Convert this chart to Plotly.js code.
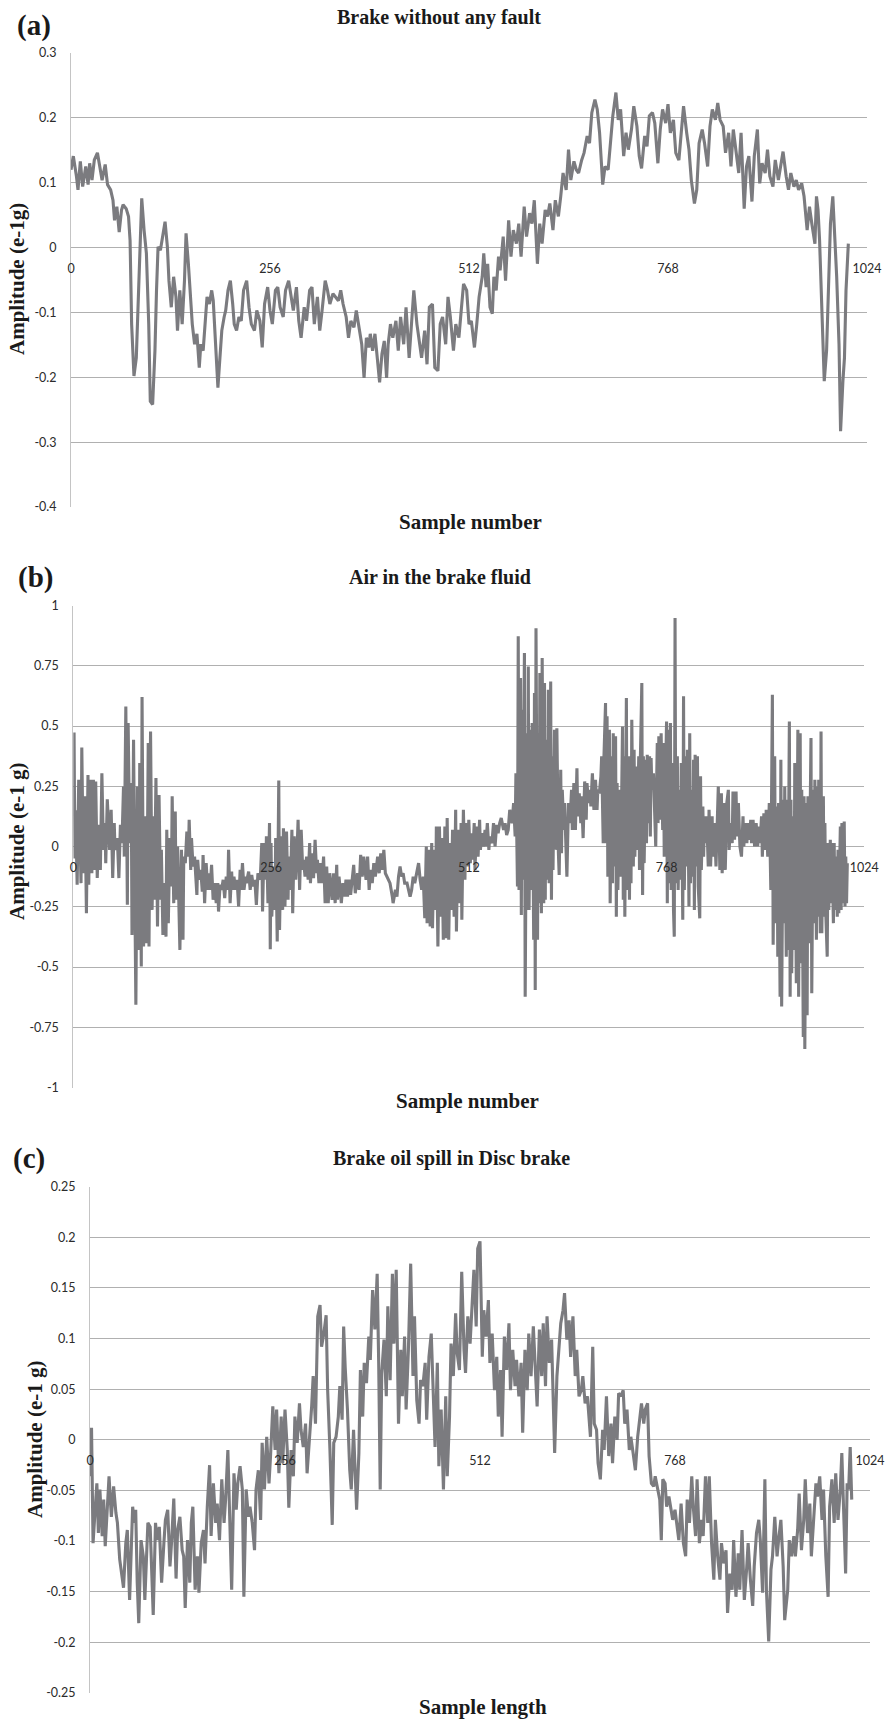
<!DOCTYPE html>
<html>
<head>
<meta charset="utf-8">
<script src="https://cdn.plot.ly/plotly-3.0.1.min.js"></script>
<style>
html,body{margin:0;padding:0;background:#ffffff;}
#chart{width:888px;height:1720px;}
</style>
</head>
<body>
<div id="chart"></div>
<script>
// ---------- tick labels ----------
const xTickVals = [0, 256, 512, 768, 1024];
const xTickText = ['0', '256', '512', '768', '1024'];

const yTickValsA = [0.3, 0.2, 0.1, 0, -0.1, -0.2, -0.3, -0.4];
const yTickTextA = ['0.3', '0.2', '0.1', '0', '-0.1', '-0.2', '-0.3', '-0.4'];
const yTickValsB = [1, 0.75, 0.5, 0.25, 0, -0.25, -0.5, -0.75, -1];
const yTickTextB = ['1', '0.75', '0.5', '0.25', '0', '-0.25', '-0.5', '-0.75', '-1'];
const yTickValsC = [0.25, 0.2, 0.15, 0.1, 0.05, 0, -0.05, -0.1, -0.15, -0.2, -0.25];
const yTickTextC = ['0.25', '0.2', '0.15', '0.1', '0.05', '0', '-0.05', '-0.1', '-0.15', '-0.2', '-0.25'];

// ---------- (a) Brake without any fault ----------
const sampleA = [0,3,7,9,12,15,19,22,24,27,
30,34,37,40,44,47,51,54,56,59,
62,65,67,71,74,76,78,81,84,88,
91,94,97,100,102,105,108,110,112,115,
118,121,124,126,129,132,135,137,140,143,
146,148,151,154,156,159,162,165,167,170,
172,175,178,181,183,186,189,191,194,197,
199,202,205,208,210,213,216,219,222,226,
229,232,236,239,243,246,249,253,256,259,
263,266,269,273,276,280,283,286,290,293,
296,300,303,307,310,313,317,320,323,327,
330,333,337,340,344,347,350,354,357,360,
364,367,371,374,377,380,383,385,388,391,
394,397,400,403,406,408,411,414,418,421,
424,428,431,435,438,441,445,448,451,455,
458,461,465,468,472,475,478,482,485,488,
492,495,499,502,505,509,512,515,519,522,
525,529,531,534,536,539,542,544,547,550,
552,556,559,563,566,569,573,576,579,583,
586,590,593,596,600,603,606,610,613,616,
620,623,627,630,633,637,640,643,647,650,
653,657,660,664,667,670,674,677,680,684,
687,691,694,697,701,704,707,711,714,717,
721,724,728,731,734,738,741,744,748,751,
755,758,761,765,768,771,775,778,782,785,
788,792,795,798,802,805,808,812,815,819,
822,825,829,832,835,839,842,846,849,852,
856,859,862,866,869,872,876,879,883,886,
889,893,896,899,903,906,910,913,916,920,
923,926,930,933,936,940,943,947,950,953,
957,959,961,963,967,969,972,975,977,980,
982,985,988,990,993,995,997,1000];
const ampA = [0.120,0.141,0.110,0.089,0.133,0.094,0.125,0.097,0.130,0.104,
0.135,0.146,0.125,0.104,0.128,0.097,0.089,0.073,0.042,0.063,
0.024,0.058,0.066,0.060,0.048,0.011,-0.118,-0.198,-0.170,-0.014,
0.076,0.027,-0.009,-0.118,-0.237,-0.242,-0.159,-0.066,0.001,-0.004,
0.022,0.040,0.001,-0.051,-0.092,-0.045,-0.076,-0.128,-0.066,-0.118,
-0.051,0.022,-0.025,-0.076,-0.118,-0.149,-0.133,-0.185,-0.149,-0.159,
-0.118,-0.076,-0.087,-0.066,-0.082,-0.144,-0.216,-0.180,-0.128,-0.107,
-0.097,-0.066,-0.051,-0.087,-0.118,-0.128,-0.107,-0.113,-0.066,-0.051,
-0.092,-0.118,-0.128,-0.097,-0.113,-0.154,-0.087,-0.061,-0.097,-0.118,
-0.066,-0.061,-0.092,-0.107,-0.066,-0.051,-0.076,-0.097,-0.061,-0.113,
-0.139,-0.092,-0.113,-0.066,-0.061,-0.118,-0.076,-0.128,-0.097,-0.051,
-0.066,-0.087,-0.071,-0.076,-0.082,-0.066,-0.087,-0.107,-0.139,-0.113,
-0.123,-0.097,-0.128,-0.149,-0.201,-0.139,-0.154,-0.133,-0.159,-0.133,
-0.170,-0.208,-0.164,-0.144,-0.201,-0.149,-0.118,-0.139,-0.113,-0.159,
-0.107,-0.149,-0.092,-0.170,-0.118,-0.066,-0.118,-0.149,-0.170,-0.128,
-0.180,-0.092,-0.087,-0.185,-0.190,-0.118,-0.107,-0.149,-0.076,-0.107,
-0.159,-0.118,-0.139,-0.097,-0.056,-0.066,-0.118,-0.113,-0.154,-0.118,
-0.076,-0.045,-0.009,-0.061,-0.025,-0.092,-0.102,-0.045,-0.066,-0.014,
-0.035,0.017,-0.051,0.042,-0.014,0.027,0.006,0.037,-0.014,0.063,
0.017,0.053,0.037,0.073,-0.025,0.037,0.006,0.058,0.048,0.068,
0.027,0.073,0.048,0.079,0.115,0.089,0.151,0.104,0.133,0.120,
0.115,0.135,0.146,0.172,0.161,0.208,0.228,0.213,0.177,0.097,
0.125,0.120,0.166,0.203,0.239,0.197,0.213,0.141,0.177,0.151,
0.182,0.218,0.187,0.141,0.122,0.172,0.156,0.203,0.208,0.192,
0.130,0.182,0.213,0.192,0.221,0.177,0.197,0.146,0.135,0.182,
0.218,0.177,0.151,0.104,0.068,0.089,0.161,0.182,0.161,0.125,
0.187,0.213,0.197,0.223,0.197,0.187,0.146,0.177,0.125,0.182,
0.141,0.115,0.177,0.060,0.125,0.141,0.071,0.141,0.182,0.099,
0.130,0.115,0.151,0.110,0.094,0.135,0.104,0.125,0.148,0.110,
0.089,0.115,0.094,0.104,0.089,0.099,0.079,0.027,0.063,0.037,
0.006,0.079,0.058,0.011,-0.118,-0.206,-0.159,-0.014,0.037,0.079,
0.037,-0.045,-0.149,-0.283,-0.206,-0.170,-0.066,0.006];

// ---------- (b) Air in the brake fluid ----------
const sampleB = [0,1,2,3,5,7,10,11,13,15,
17,19,20,22,24,26,28,29,31,33,
35,37,39,41,42,44,47,49,51,53,
54,57,59,61,63,65,66,68,70,71,
73,75,76,78,80,81,83,85,86,88,
89,91,93,95,97,98,100,102,104,105,
107,109,111,113,114,116,118,120,121,123,
125,127,128,130,132,133,135,137,138,140,
142,143,145,147,149,150,152,153,155,157,
158,160,161,163,165,167,168,170,172,174,
175,177,179,181,183,185,187,188,190,192,
194,196,198,200,201,203,205,206,208,210,
212,214,216,217,219,221,223,224,227,229,
231,233,235,237,239,242,244,245,247,249,
250,252,254,255,256,257,259,261,262,264,
266,267,269,271,272,274,276,278,279,281,
283,284,286,288,290,291,293,295,297,298,
300,302,304,306,307,309,311,313,315,316,
318,320,322,324,326,328,330,332,335,337,
339,341,342,344,347,349,351,353,355,357,
359,362,363,365,368,370,372,374,376,379,
381,383,385,387,389,391,394,396,398,400,
402,404,406,408,410,413,414,417,419,421,
423,425,427,429,432,434,436,438,440,442,
445,447,449,451,453,455,457,458,460,462,
464,465,467,469,470,472,474,476,477,479,
481,483,484,486,488,489,491,493,495,496,
498,500,502,503,505,507,508,510,512,514,
515,517,519,520,522,524,526,527,529,531,
533,534,536,538,539,542,544,546,548,550,
552,554,557,559,561,563,565,568,570,572,
573,575,576,577,579,580,581,582,584,585,
587,588,589,590,592,593,594,596,597,598,
599,601,602,603,604,606,607,609,610,611,
612,614,615,616,618,619,620,621,623,624,
625,626,628,629,631,632,633,635,636,638,
639,641,643,645,646,648,650,652,653,655,
657,658,660,662,664,665,667,669,670,672,
674,676,678,679,681,683,684,686,687,689,
690,691,692,694,695,697,698,699,700,702,
703,704,705,707,708,710,711,712,713,714,
716,717,719,720,721,722,723,725,726,727,
729,730,732,733,734,736,737,738,739,741,
742,743,745,746,747,748,749,751,752,754,
755,756,757,758,760,761,763,764,765,767,
768,769,770,771,773,774,776,777,778,779,
780,782,783,785,786,787,789,790,791,793,
794,795,797,798,799,800,802,803,804,805,
807,808,809,811,812,813,815,816,817,818,
820,822,823,825,827,828,830,832,834,835,
837,839,840,842,844,846,848,849,851,853,
854,856,858,859,861,863,865,867,868,870,
872,873,875,877,878,880,882,884,886,887,
889,891,892,894,896,897,899,901,903,904,
905,906,908,909,911,912,913,915,916,917,
919,920,921,923,924,925,927,928,929,930,
932,933,934,936,937,938,939,941,942,943,
945,946,947,949,950,951,952,954,955,956,
958,959,960,962,963,964,965,967,968,969,
971,972,973,974,976,977,978,980,981,982,
984,985,986,988,989,990,991,993,994,995,
997,998,999,1000,1001,1002];
const ampB = [0.166,0.473,-0.050,0.150,-0.159,0.277,-0.152,0.411,-0.111,0.208,
-0.277,0.297,-0.159,0.277,-0.111,0.277,-0.097,0.270,-0.131,0.090,
-0.097,0.304,-0.014,0.097,-0.069,0.196,-0.014,0.152,-0.131,0.097,
-0.014,0.035,-0.131,0.090,0.014,0.249,-0.042,0.581,-0.242,0.512,
0.014,0.263,-0.367,0.443,-0.318,-0.657,0.249,-0.429,0.346,-0.498,
0.620,-0.415,0.125,-0.401,0.429,-0.415,0.477,-0.263,0.125,-0.221,
0.284,-0.332,0.214,-0.221,-0.014,-0.367,-0.152,-0.374,0.069,-0.318,
0.035,-0.166,0.208,-0.235,0.145,-0.221,0.000,-0.318,-0.429,-0.014,
-0.387,-0.042,-0.069,0.062,-0.042,0.111,-0.097,0.035,-0.083,-0.042,
-0.111,-0.201,-0.055,-0.138,-0.097,-0.187,-0.035,-0.235,-0.069,-0.180,
-0.111,-0.180,-0.076,-0.221,-0.152,-0.235,-0.152,-0.270,-0.159,-0.180,
-0.138,-0.214,-0.125,-0.180,-0.014,-0.235,-0.104,-0.180,-0.125,-0.180,
-0.138,-0.249,-0.097,-0.180,-0.069,-0.180,-0.125,-0.152,-0.104,-0.180,
-0.118,-0.166,-0.138,-0.242,-0.111,-0.138,0.014,-0.270,0.014,-0.138,
0.042,-0.235,0.097,-0.426,0.014,-0.291,-0.083,-0.263,0.035,-0.394,
0.274,-0.346,0.042,-0.263,0.076,-0.249,0.062,-0.221,-0.042,-0.180,
0.069,-0.277,0.042,-0.138,0.014,0.111,-0.180,0.069,-0.097,-0.055,
-0.125,-0.042,-0.138,0.014,-0.152,-0.028,-0.131,0.028,-0.111,-0.055,
-0.152,-0.069,-0.152,-0.042,-0.235,-0.083,-0.235,-0.111,-0.221,-0.111,
-0.235,-0.076,-0.221,-0.125,-0.235,-0.152,-0.208,-0.138,-0.208,-0.138,
-0.201,-0.125,-0.076,-0.194,-0.111,-0.180,-0.035,-0.125,-0.042,-0.138,
-0.042,-0.180,-0.097,-0.152,-0.069,-0.125,-0.042,-0.111,-0.028,-0.097,
-0.014,-0.111,-0.125,-0.138,-0.152,-0.208,-0.235,-0.180,-0.208,-0.125,
-0.083,-0.125,-0.111,-0.152,-0.152,-0.180,-0.208,-0.180,-0.125,-0.152,
-0.104,-0.069,-0.138,-0.180,-0.125,-0.297,0.000,-0.318,-0.014,-0.332,
0.014,-0.339,-0.014,-0.263,0.083,-0.415,0.083,-0.291,0.035,-0.387,
0.083,-0.381,0.118,-0.387,0.014,-0.263,0.069,-0.291,0.152,-0.353,
0.069,-0.235,0.097,-0.304,0.152,-0.138,0.097,-0.083,0.111,-0.069,
0.055,-0.055,0.097,-0.097,0.083,-0.042,0.111,-0.014,0.055,0.000,
0.069,0.000,0.097,-0.014,0.042,0.014,0.097,0.000,0.090,0.055,
0.097,0.118,0.069,0.097,0.048,0.069,0.152,0.097,0.180,0.042,
0.304,-0.166,0.872,-0.180,0.699,-0.284,0.567,-0.138,0.803,-0.623,
0.470,-0.263,0.747,-0.263,0.484,-0.180,0.512,-0.387,0.637,-0.595,
0.906,-0.387,0.470,-0.235,0.720,-0.277,0.782,-0.235,0.678,-0.221,
0.443,-0.138,0.650,-0.152,0.685,-0.221,0.374,-0.097,0.484,-0.014,
0.304,0.491,-0.028,-0.118,0.318,-0.028,0.235,0.069,0.180,-0.028,
-0.125,0.180,0.097,0.235,0.069,0.263,0.069,0.325,0.125,0.221,
0.097,0.208,0.035,0.270,0.111,0.263,0.180,0.235,0.166,0.304,
0.152,0.277,0.152,0.235,0.221,0.291,0.374,0.014,0.374,0.595,
0.014,0.540,-0.125,0.484,-0.235,0.374,-0.152,0.470,-0.083,0.457,
-0.291,0.263,-0.180,0.235,-0.125,0.235,0.498,-0.221,0.374,-0.291,
0.616,-0.180,0.374,-0.221,0.291,-0.152,0.526,-0.083,0.401,-0.042,
0.332,-0.014,0.374,-0.097,0.346,0.678,-0.201,0.374,-0.069,0.360,
0.014,0.381,0.097,0.374,0.042,0.367,0.235,0.304,0.166,0.000,
0.235,0.429,0.097,0.457,0.111,0.470,0.069,0.429,-0.042,0.484,
0.519,-0.235,0.484,-0.152,0.512,-0.180,0.346,-0.263,-0.374,0.948,
-0.152,0.374,-0.180,0.235,-0.138,0.346,-0.304,0.623,-0.180,0.374,
-0.083,0.401,-0.249,0.470,-0.152,0.235,-0.125,0.360,-0.263,0.381,
-0.083,0.374,-0.166,-0.298,0.291,-0.097,0.166,-0.042,0.125,0.014,
0.125,-0.083,0.152,-0.083,0.125,-0.042,0.097,-0.083,0.152,0.249,
-0.097,0.221,-0.111,0.180,-0.097,0.180,0.235,-0.014,0.097,0.014,
0.228,0.028,0.228,0.042,0.180,0.000,-0.042,0.125,0.000,0.097,
0.014,0.097,0.028,0.111,0.014,0.111,0.000,0.097,0.000,0.083,
0.014,0.125,-0.042,0.138,-0.014,0.152,-0.042,0.180,-0.180,0.235,
0.630,-0.408,0.374,-0.318,0.166,-0.457,0.180,-0.623,0.360,-0.664,
0.194,-0.318,0.249,-0.457,0.194,-0.429,0.519,-0.623,0.194,-0.526,
0.125,-0.429,0.346,-0.567,0.194,0.484,-0.623,0.470,-0.484,0.235,
-0.790,0.208,-0.840,0.180,-0.700,0.208,-0.401,0.235,0.450,-0.609,
0.235,-0.318,0.277,-0.387,0.249,-0.291,0.277,-0.360,0.477,-0.360,
0.208,-0.291,0.097,-0.263,-0.457,0.014,-0.263,0.028,-0.235,0.014,
-0.318,0.014,-0.263,-0.042,-0.291,-0.014,-0.277,0.083,-0.263,0.097,
-0.235,0.104,-0.249,-0.042,-0.235,-0.069];

// ---------- (c) Brake oil spill in Disc brake ----------
const sampleC = [0,1,2,4,7,9,11,13,16,18,
20,23,25,28,31,34,36,39,42,44,
47,49,52,54,56,58,60,62,64,67,
70,72,74,76,79,81,83,86,88,91,
94,97,99,102,105,107,110,113,115,118,
121,123,125,128,131,133,135,138,141,143,
146,149,151,154,157,159,162,165,167,170,
173,176,178,181,184,186,189,192,194,197,
200,202,205,208,210,213,216,218,221,224,
226,229,232,235,237,240,243,245,248,251,
253,256,259,261,264,267,269,272,275,277,
280,283,285,288,291,293,296,299,302,304,
307,310,312,315,318,320,323,326,328,331,
333,335,338,341,343,346,348,350,353,355,
358,360,363,366,368,371,374,377,379,381,
383,386,389,391,394,397,399,402,405,408,
410,413,415,418,421,424,426,429,432,434,
437,440,442,445,448,450,453,456,458,461,
464,467,469,472,474,477,480,482,485,488,
491,493,496,499,501,504,507,509,512,515,
517,520,523,525,528,531,534,536,539,541,
544,547,550,552,555,558,560,563,566,568,
571,574,576,579,582,584,587,590,593,595,
598,600,603,606,608,610,613,615,618,621,
623,626,629,631,634,637,639,642,645,647,
650,653,656,657,660,662,665,667,670,673,
675,678,681,684,686,689,692,694,697,700,
702,705,708,710,713,716,719,721,724,727,
729,732,734,737,740,742,745,748,750,752,
755,757,760,763,765,768,771,773,776,779,
782,784,787,790,792,795,797,800,803,805,
808,811,813,816,819,821,824,827,829,832,
835,837,840,843,845,848,851,853,856,859,
862,864,867,870,872,875,878,880,883,886,
888,891,894,896,899,902,904,907,910,912,
916,918,921,924,926,929,931,934,937,939,
942,945,947,950,953,955,958,961,963,966,
969,971,974,977,979,982,985,987,990,992,
994,996,998,1000];
const ampC = [-0.020,-0.036,0.012,-0.102,-0.066,-0.043,-0.092,-0.049,-0.095,-0.059,
-0.105,-0.069,-0.036,-0.076,-0.046,-0.072,-0.082,-0.118,-0.132,-0.146,
-0.102,-0.089,-0.158,-0.109,-0.066,-0.082,-0.069,-0.141,-0.181,-0.099,
-0.115,-0.158,-0.122,-0.082,-0.086,-0.141,-0.173,-0.082,-0.099,-0.086,
-0.141,-0.102,-0.079,-0.069,-0.125,-0.102,-0.058,-0.137,-0.089,-0.076,
-0.109,-0.115,-0.166,-0.099,-0.141,-0.082,-0.066,-0.148,-0.115,-0.151,
-0.102,-0.089,-0.122,-0.066,-0.025,-0.095,-0.043,-0.082,-0.063,-0.099,
-0.039,-0.082,-0.059,-0.010,-0.082,-0.148,-0.033,-0.069,-0.043,-0.026,
-0.049,-0.155,-0.049,-0.076,-0.066,-0.082,-0.109,-0.049,-0.030,-0.079,
-0.003,-0.049,0.003,-0.043,-0.016,0.033,-0.010,0.030,-0.033,0.023,
-0.023,0.030,-0.010,-0.067,-0.010,-0.036,0.023,-0.003,0.036,0.010,
-0.007,0.016,-0.033,-0.003,0.033,0.063,0.016,0.122,0.133,0.092,
0.105,0.123,0.049,-0.010,-0.084,-0.003,0.003,0.023,0.053,0.020,
0.112,0.072,0.030,-0.030,-0.049,0.010,-0.026,-0.069,-0.013,0.069,
0.023,0.076,0.056,0.102,0.079,0.148,0.109,0.164,0.076,-0.049,
0.066,0.099,0.043,0.132,0.059,0.164,0.095,0.168,0.016,0.089,
0.043,0.102,0.030,0.089,0.174,0.063,0.122,0.039,0.016,0.059,
0.053,0.076,0.020,0.082,0.105,0.063,-0.007,0.076,-0.026,0.030,
-0.049,0.043,-0.036,0.023,0.095,0.063,0.125,0.086,0.069,0.166,
0.089,0.066,0.122,0.095,0.128,0.168,0.112,0.189,0.196,0.082,
0.128,0.102,0.138,0.076,0.105,0.049,0.082,0.023,0.069,0.003,
0.102,0.069,0.115,0.049,0.089,0.053,0.079,0.043,0.076,0.007,
0.089,0.049,0.105,0.063,0.112,0.076,0.033,0.109,0.063,0.115,
0.053,0.122,0.076,0.099,0.033,-0.013,0.063,0.089,0.115,0.128,
0.145,0.099,0.118,0.082,0.122,0.063,0.089,0.043,0.049,0.063,
0.036,0.043,0.016,0.003,0.092,0.016,0.010,-0.023,-0.039,0.010,
-0.010,0.043,-0.016,0.016,-0.023,0.023,0.000,0.046,0.043,0.049,
0.016,0.030,-0.010,0.003,-0.013,-0.030,0.003,0.016,0.036,0.016,
0.030,0.036,-0.016,-0.043,-0.046,-0.036,-0.049,-0.059,-0.099,-0.039,
-0.043,-0.066,-0.056,-0.069,-0.079,-0.069,-0.089,-0.099,-0.063,-0.102,
-0.115,-0.059,-0.082,-0.036,-0.066,-0.095,-0.039,-0.102,-0.079,-0.095,
-0.036,-0.082,-0.036,-0.102,-0.138,-0.079,-0.115,-0.138,-0.102,-0.122,
-0.109,-0.171,-0.132,-0.148,-0.099,-0.155,-0.112,-0.148,-0.089,-0.158,
-0.128,-0.102,-0.138,-0.164,-0.125,-0.092,-0.079,-0.099,-0.151,-0.039,
-0.148,-0.199,-0.128,-0.115,-0.076,-0.115,-0.099,-0.079,-0.125,-0.178,
-0.148,-0.099,-0.115,-0.095,-0.115,-0.089,-0.053,-0.109,-0.079,-0.039,
-0.092,-0.063,-0.115,-0.079,-0.043,-0.056,-0.036,-0.079,-0.049,-0.115,
-0.155,-0.066,-0.039,-0.082,-0.033,-0.079,-0.049,-0.013,-0.099,-0.132,
-0.043,-0.049,-0.007,-0.059];

// ---------- layout geometry (page pixels) ----------
const W = 888, H = 1720;
const pxX = v => v / W;
const pxY = v => 1 - v / H;

const serif = 'Liberation Serif, Times New Roman, serif';
const tickFont = {family: 'Lato, Calibri, sans-serif', size: 12.5, color: '#2b2b2b'};
const lineColor = '#7b7b7f';

const panels = [
  {id: '',  xs: sampleA, ys: ampA, box: {l: 71,   r: 867,   t: 53,     b: 507},    yr: [-0.4, 0.3],   yv: yTickValsA, yt: yTickTextA,
   title: 'Brake without any fault', tPos: [439, 18], label: '(a)', lPos: [34, 25],
   xTitle: 'Sample number', xtPos: [470, 522], yTitle: 'Amplitude (e-1g)', ytPos: [17, 279]},
  {id: '2', xs: sampleB, ys: ampB, box: {l: 73.3, r: 864.3, t: 605.5,  b: 1087.5}, yr: [-1, 1],       yv: yTickValsB, yt: yTickTextB,
   title: 'Air in the brake fluid', tPos: [440, 577], label: '(b)', lPos: [35, 577],
   xTitle: 'Sample number', xtPos: [468, 1101], yTitle: 'Amplitude (e-1 g)', ytPos: [17, 842]},
  {id: '3', xs: sampleC, ys: ampC, box: {l: 90,   r: 870,   t: 1186.7, b: 1693},   yr: [-0.25, 0.25], yv: yTickValsC, yt: yTickTextC,
   title: 'Brake oil spill in Disc brake', tPos: [451, 1158], label: '(c)', lPos: [29, 1158],
   xTitle: 'Sample length', xtPos: [483, 1707], yTitle: 'Amplitude (e-1 g)', ytPos: [35, 1440]}
];

const traces = [];
const layout = {
  width: W, height: H,
  margin: {l: 0, r: 0, t: 0, b: 0, pad: 0},
  paper_bgcolor: '#ffffff', plot_bgcolor: '#ffffff',
  showlegend: false,
  annotations: []
};

panels.forEach(p => {
  if (p.xs.length !== p.ys.length) console.error('length mismatch', p.label, p.xs.length, p.ys.length);
  const xd = [pxX(p.box.l), pxX(p.box.r)];
  const yd = [pxY(p.box.b), pxY(p.box.t)];
  const zeroPos = yd[0] + (0 - p.yr[0]) / (p.yr[1] - p.yr[0]) * (yd[1] - yd[0]);

  traces.push({
    x: p.xs, y: p.ys, type: 'scatter', mode: 'lines',
    xaxis: 'x' + p.id, yaxis: 'y' + p.id,
    line: {color: lineColor, width: 3.1},
    hoverinfo: 'skip'
  });

  layout['xaxis' + p.id] = {
    domain: xd, range: [0, 1024], anchor: 'free', position: zeroPos,
    tickmode: 'array', tickvals: xTickVals, ticktext: xTickText,
    showgrid: false, zeroline: false, showline: false,
    ticks: 'outside', ticklen: 9, tickcolor: 'rgba(0,0,0,0)',
    tickfont: tickFont, fixedrange: true
  };
  layout['yaxis' + p.id] = {
    domain: yd, range: p.yr, anchor: 'x' + p.id,
    tickmode: 'array', tickvals: p.yv, ticktext: p.yt,
    showgrid: true, gridcolor: '#b0b0b0', gridwidth: 1,
    zeroline: false, showline: true, linecolor: '#c4c4c4', linewidth: 1,
    ticks: 'outside', ticklen: 11, tickcolor: 'rgba(0,0,0,0)',
    tickfont: tickFont, fixedrange: true
  };

  const ann = (text, pos, size, angle) => ({
    text: '<b>' + text + '</b>', xref: 'paper', yref: 'paper',
    x: pxX(pos[0]), y: pxY(pos[1]), xanchor: 'center', yanchor: 'middle',
    showarrow: false, textangle: angle || 0,
    font: {family: serif, size: size, color: '#1a1a1a'}
  });
  layout.annotations.push(ann(p.title, p.tPos, 20));
  layout.annotations.push(ann(p.label, p.lPos, 29));
  layout.annotations.push(ann(p.xTitle, p.xtPos, 21));
  layout.annotations.push(ann(p.yTitle, p.ytPos, 21, -90));
});

Plotly.newPlot('chart', traces, layout, {displayModeBar: false, staticPlot: true});
</script>
</body>
</html>
